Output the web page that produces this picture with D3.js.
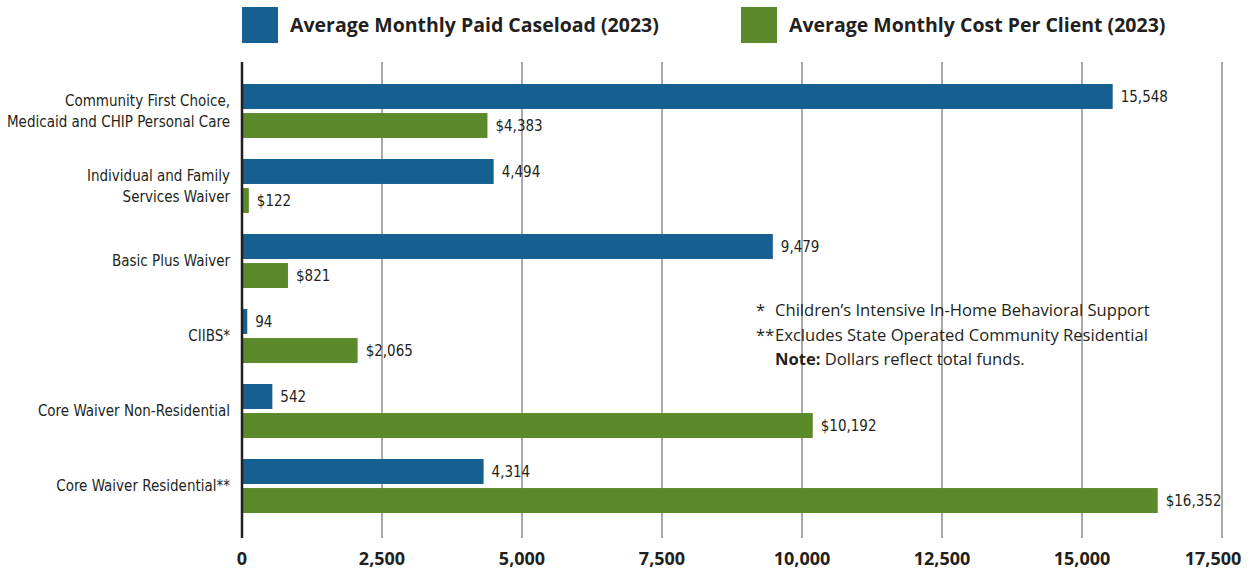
<!DOCTYPE html>
<html>
<head>
<meta charset="utf-8">
<script src="https://cdn.jsdelivr.net/npm/d3@7"></script>
<style>
  body { margin: 0; background: #fff; }
  svg { display: block; }
  .narrow { font-family: "DejaVu Sans Condensed", "DejaVu Sans", sans-serif; font-stretch: condensed; }
</style>
</head>
<body>
<div id="chart"></div>
<script>
// chart values
const categories = [
  ["Community First Choice,", "Medicaid and CHIP Personal Care"],
  ["Individual and Family", "Services Waiver"],
  ["Basic Plus Waiver"],
  ["CIIBS*"],
  ["Core Waiver Non-Residential"],
  ["Core Waiver Residential**"]
];
const caseload = [15548, 4494, 9479, 94, 542, 4314];
const costPerClient = [4383, 122, 821, 2065, 10192, 16352];
const seriesNames = ["Average Monthly Paid Caseload (2023)", "Average Monthly Cost Per Client (2023)"];
const xTicks = [0, 2500, 5000, 7500, 10000, 12500, 15000, 17500];
const notes = [
  ["*", "Children\u2019s Intensive In-Home Behavioral Support"],
  ["**", "Excludes State Operated Community Residential"]
];

const width = 1253, height = 571;
const margin = { top: 62, right: 31, bottom: 33, left: 242 };
const blue = "#155f91", green = "#5c8a2a", ink = "#231f20";

const svg = d3.select("#chart").append("svg")
  .attr("width", width).attr("height", height);

const x = d3.scaleLinear().domain([0, 17500]).range([margin.left, 1222]);
const y = d3.scaleBand().domain(d3.range(categories.length))
  .range([73.5, 523.5]).paddingInner(0.28).paddingOuter(0.14);
const ySub = d3.scaleBand().domain([0, 1]).range([0, y.bandwidth()]).paddingInner(0.14);

// grid lines
svg.append("g")
  .selectAll("line")
  .data(xTicks.slice(1))
  .join("line")
  .attr("x1", d => x(d)).attr("x2", d => x(d))
  .attr("y1", margin.top).attr("y2", 538)
  .attr("stroke", "#a7a9ac").attr("stroke-width", 2);

// tick labels (last one pulled in so it stays on the page)
svg.append("g")
  .selectAll("text")
  .data(xTicks)
  .join("text")
  .attr("x", d => Math.min(x(d), width - 40)).attr("y", 565)
  .attr("text-anchor", "middle")
  .style("font", "bold 18px 'Open Sans', sans-serif")
  .attr("fill", ink)
  .text(d => d3.format(",")(d));

const rows = categories.map((c, i) => ({ i, label: c, vals: [caseload[i], costPerClient[i]] }));

const group = svg.append("g").selectAll("g")
  .data(rows).join("g")
  .attr("transform", d => `translate(0,${y(d.i)})`);

const bars = group.selectAll("g")
  .data(d => d.vals.map((v, k) => ({ v, k })))
  .join("g")
  .attr("transform", d => `translate(0,${ySub(d.k)})`);

bars.append("rect")
  .attr("x", x(0))
  .attr("width", d => x(d.v) - x(0))
  .attr("height", ySub.bandwidth())
  .attr("fill", d => d.k === 0 ? blue : green);

bars.append("text")
  .attr("class", "narrow")
  .attr("x", d => x(d.v) + 8)
  .attr("y", ySub.bandwidth() / 2)
  .attr("dy", "0.35em")
  .style("font-size", "15px")
  .attr("fill", ink)
  .text(d => (d.k === 1 ? "$" : "") + d3.format(",")(d.v));

// category labels
group.append("text")
  .attr("class", "narrow")
  .attr("text-anchor", "end")
  .style("font-size", "15px")
  .attr("fill", ink)
  .each(function (d) {
    const t = d3.select(this);
    const n = d.label.length;
    d.label.forEach((line, j) => {
      t.append("tspan")
        .attr("x", 230)
        .attr("y", y.bandwidth() / 2 + (j - (n - 1) / 2) * 21)
        .attr("dy", "0.35em")
        .text(line);
    });
  });

// axis line
svg.append("line")
  .attr("x1", x(0)).attr("x2", x(0))
  .attr("y1", margin.top).attr("y2", 538)
  .attr("stroke", ink).attr("stroke-width", 2.5);

// legend
const legend = svg.append("g").selectAll("g")
  .data(seriesNames).join("g")
  .attr("transform", (d, i) => `translate(${i === 0 ? 242 : 741},7)`);
legend.append("rect")
  .attr("width", 36).attr("height", 36)
  .attr("fill", (d, i) => i === 0 ? blue : green);
legend.append("text")
  .attr("x", 48).attr("y", 18).attr("dy", "0.35em")
  .style("font", "bold 19.5px 'Open Sans', sans-serif")
  .attr("fill", ink)
  .text(d => d);

// footnotes
const noteG = svg.append("g").style("font", "16.6px 'Open Sans', sans-serif").attr("fill", ink);
notes.forEach((n, j) => {
  noteG.append("text").attr("x", n[0] === "*" ? 756 : 756).attr("y", 316 + j * 24.5).text(n[0]);
  noteG.append("text").attr("x", 775).attr("y", 316 + j * 24.5).text(n[1]);
});
const last = noteG.append("text").attr("x", 775).attr("y", 365);
last.append("tspan").style("font-weight", "bold").text("Note:");
last.append("tspan").text(" Dollars reflect total funds.");
</script>
</body>
</html>
